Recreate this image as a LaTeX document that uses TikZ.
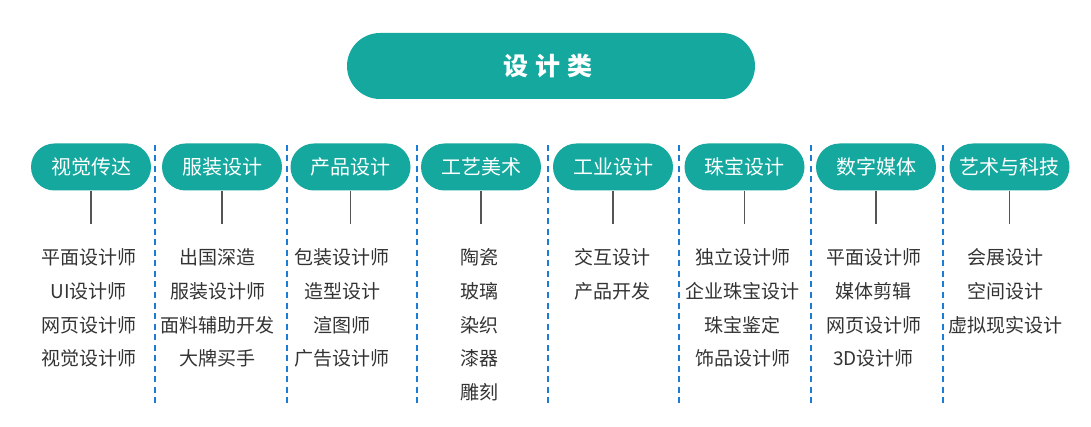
\documentclass[tikz,border=0pt]{standalone}
\usepackage{fontspec}
\newfontfamily\cjk{Noto Sans CJK SC}
\definecolor{padgreen}{HTML}{14A89E}
\definecolor{textgray}{HTML}{333333}
\definecolor{stemgray}{HTML}{555555}
\definecolor{sepblue}{HTML}{1C7CD5}
\begin{document}
\begin{tikzpicture}[x=1pt,y=-1pt,
    head/.style={fill=padgreen, text=white, rounded corners=33pt, minimum width=408pt, minimum height=66pt, inner sep=0pt, font=\cjk\bfseries\fontsize{25}{25}\selectfont},
    cat/.style={fill=padgreen, text=white, rounded corners=23.5pt, minimum width=120pt, minimum height=47pt, inner sep=0pt, text height=17.6pt, text depth=2.4pt, font=\cjk\fontsize{20}{20}\selectfont},
    item/.style={text=textgray, inner sep=0pt, text height=16.7pt, text depth=2.3pt, font=\cjk\fontsize{19}{19}\selectfont},
    stem/.style={draw=stemgray, line width=1.2pt},
    sep/.style={draw=sepblue, line width=2pt, dash pattern=on 6pt off 4.5pt}]
        \useasboundingbox (0,0) rectangle (1091,427);
        % title
        \node[head] (design) at (551,66) {\hspace{-6pt}设\hspace{7pt}计\hspace{7pt}类};
        % categories
        \node[cat] (vis) at (91,167) {视觉传达};
        \node[cat] (fash) at (222,167) {服装设计};
        \node[cat] (prod) at (350.5,167) {产品设计};
        \node[cat] (craft) at (481,167) {工艺美术};
        \node[cat] (indu) at (613,167) {工业设计};
        \node[cat] (jewel) at (744.5,167) {珠宝设计};
        \node[cat] (media) at (876,167) {数字媒体};
        \node[cat] (arttech) at (1009.5,167) {艺术与科技};
        % stems
        \coordinate (vis-end) at (vis.south |- 0,224);
        \coordinate (fash-end) at (fash.south |- 0,224);
        \coordinate (prod-end) at (prod.south |- 0,224);
        \coordinate (craft-end) at (craft.south |- 0,224);
        \coordinate (indu-end) at (indu.south |- 0,224);
        \coordinate (jewel-end) at (jewel.south |- 0,224);
        \coordinate (media-end) at (media.south |- 0,224);
        \coordinate (arttech-end) at (arttech.south |- 0,224);
        \draw[stem] (vis.south) -- (vis-end);
        \draw[stem] (fash.south) -- (fash-end);
        \draw[stem] (prod.south) -- (prod-end);
        \draw[stem] (craft.south) -- (craft-end);
        \draw[stem] (indu.south) -- (indu-end);
        \draw[stem] (jewel.south) -- (jewel-end);
        \draw[stem] (media.south) -- (media-end);
        \draw[stem] (arttech.south) -- (arttech-end);
        % separators
        \draw[sep] (155,145) -- (155,405);
        \draw[sep] (287,145) -- (287,405);
        \draw[sep] (417,145) -- (417,405);
        \draw[sep] (548,145) -- (548,405);
        \draw[sep] (679,145) -- (679,405);
        \draw[sep] (811,145) -- (811,405);
        \draw[sep] (943,145) -- (943,405);
        % jobs
        \node[item] (vis1) at (88.5,257.5) {平面设计师};
        \node[item] (vis2) at (88.5,291.2) {UI设计师};
        \node[item] (vis3) at (88.5,324.9) {网页设计师};
        \node[item] (vis4) at (88.5,358.6) {视觉设计师};
        \node[item] (fash1) at (217.5,257.5) {出国深造};
        \node[item] (fash2) at (217.5,291.2) {服装设计师};
        \node[item] (fash3) at (217.5,324.9) {面料辅助开发};
        \node[item] (fash4) at (217.5,358.6) {大牌买手};
        \node[item] (prod1) at (342,257.5) {包装设计师};
        \node[item] (prod2) at (342,291.2) {造型设计};
        \node[item] (prod3) at (342,324.9) {渲图师};
        \node[item] (prod4) at (342,358.6) {广告设计师};
        \node[item] (craft1) at (479.5,257.5) {陶瓷};
        \node[item] (craft2) at (479.5,291.2) {玻璃};
        \node[item] (craft3) at (479.5,324.9) {染织};
        \node[item] (craft4) at (479.5,358.6) {漆器};
        \node[item] (craft5) at (479.5,392.3) {雕刻};
        \node[item] (indu1) at (612.5,257.5) {交互设计};
        \node[item] (indu2) at (612.5,291.2) {产品开发};
        \node[item] (jewel1) at (742.5,257.5) {独立设计师};
        \node[item] (jewel2) at (742.5,291.2) {企业珠宝设计};
        \node[item] (jewel3) at (742.5,324.9) {珠宝鉴定};
        \node[item] (jewel4) at (742.5,358.6) {饰品设计师};
        \node[item] (media1) at (873.5,257.5) {平面设计师};
        \node[item] (media2) at (873.5,291.2) {媒体剪辑};
        \node[item] (media3) at (873.5,324.9) {网页设计师};
        \node[item] (media4) at (873.5,358.6) {3D设计师};
        \node[item] (arttech1) at (1005.5,257.5) {会展设计};
        \node[item] (arttech2) at (1005.5,291.2) {空间设计};
        \node[item] (arttech3) at (1005.5,324.9) {虚拟现实设计};
    \end{tikzpicture}
\end{document}
